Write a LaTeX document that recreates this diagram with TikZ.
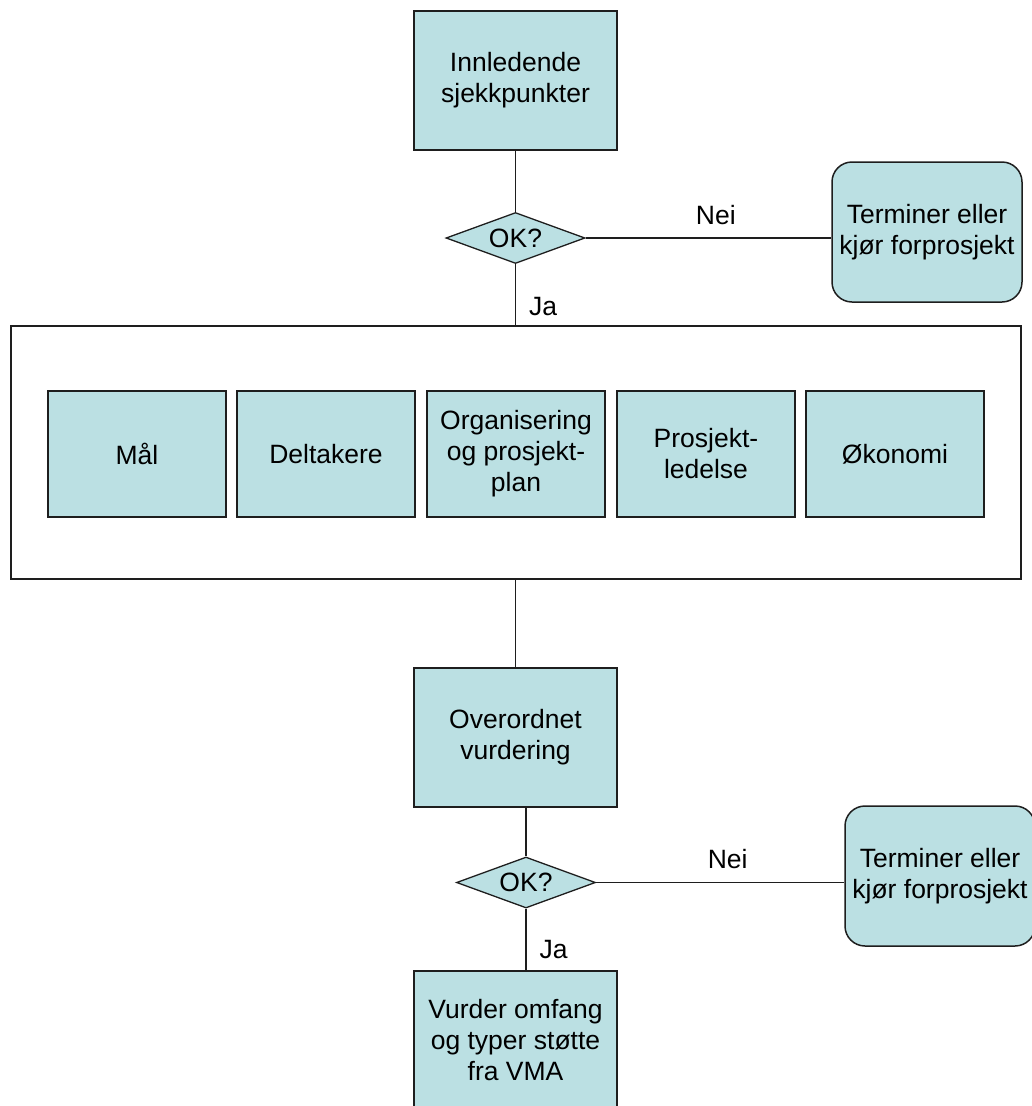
\documentclass[tikz,border=0pt]{standalone}
\usepackage{fontspec}
\setmainfont{Liberation Sans}
\usetikzlibrary{shapes.geometric}
\definecolor{boxfill}{RGB}{187,224,227}
\definecolor{edgecol}{RGB}{30,30,30}
\tikzset{
  txt/.style={font=\fontsize{26.5}{31}\selectfont, text=black},
  box/.style={txt, draw=edgecol, line width=1.5pt, fill=boxfill, align=center,
    inner sep=0pt, minimum width=203pt, minimum height=139pt},
  subbox/.style={box, minimum width=178pt, minimum height=126pt},
  endbox/.style={box, rounded corners=20pt, minimum width=190pt, minimum height=140pt},
  decision/.style={txt, diamond, aspect=2.7, draw=edgecol, line width=1.3pt, fill=boxfill,
    inner sep=0pt, minimum width=139pt, minimum height=51pt},
  frame/.style={draw=edgecol, line width=1.5pt, inner sep=0pt, minimum width=1010pt, minimum height=253pt},
  conn/.style={draw=edgecol, line width=1.3pt},
  lbl/.style={txt, inner sep=0pt}
}
\begin{document}
\begin{tikzpicture}[x=1pt, y=-1pt]
\clip (0,0) rectangle (1032,1106);
\fill[white] (0,0) rectangle (1032,1106);

\node[box] (init) at (515.5,80.5) {Innledende\\sjekkpunkter};
\node[decision] (d1) at (515.5,238) {OK?};
\node[endbox] (t1) at (927,232) {Terminer eller\\kjør forprosjekt};

\node[frame] (big) at (516,452.5) {};
\node[subbox] (maal) at (137,454) {Mål};
\node[subbox] (delt) at (326,454) {Deltakere};
\node[subbox] (org) at (516,454) {Organisering\\og prosjekt-\\plan};
\node[subbox] (pl) at (706,454) {Prosjekt-\\ledelse};
\node[subbox] (oko) at (895,454) {Økonomi};

\node[box] (ov) at (515.5,737.5) {Overordnet\\vurdering};
\node[decision] (d2) at (526,882.5) {OK?};
\node[endbox] (t2) at (940,876) {Terminer eller\\kjør forprosjekt};
\node[box] (vu) at (515.5,1040.5) {Vurder omfang\\og typer støtte\\fra VMA};

\draw[conn] (init.south) -- (d1.north);
\draw[conn] (d1.east) -- node[lbl, pos=0.53, above=13pt] {Nei} (d1.east -| t1.west);
\draw[conn] (d1.south) -- node[lbl, pos=0.7, right=13pt] {Ja} (d1.south |- big.north);
\draw[conn] (big.south -| ov.north) -- (ov.north);
\draw[conn] (ov.south -| d2.north) -- (d2.north);
\draw[conn] (d2.east) -- node[lbl, pos=0.53, above=13pt] {Nei} (d2.east -| t2.west);
\draw[conn] (d2.south) -- node[lbl, pos=0.67, right=13pt] {Ja} (d2.south |- vu.north);
\end{tikzpicture}
\end{document}
